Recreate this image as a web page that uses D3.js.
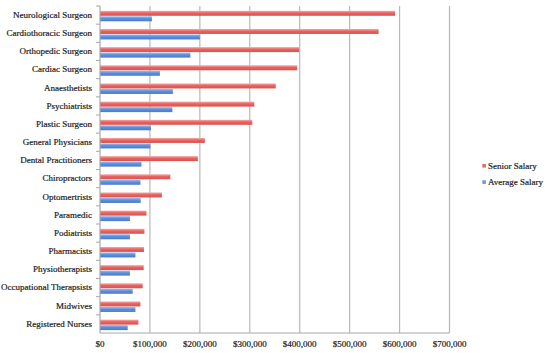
<!DOCTYPE html>
<html>
<head>
<meta charset="utf-8">
<script src="https://cdn.jsdelivr.net/npm/d3@7"></script>
<style>
  html, body { margin: 0; padding: 0; background: #fff; }
  svg { display: block; }
  text { font-family: "Liberation Serif", "DejaVu Serif", serif; fill: #1a1a1a; stroke: #1a1a1a; stroke-width: 0.2px; }
</style>
</head>
<body>
<svg id="chart" width="547" height="353"></svg>
<script>
const categories = ["Neurological Surgeon","Cardiothoracic Surgeon","Orthopedic Surgeon","Cardiac Surgeon","Anaesthetists","Psychiatrists","Plastic Surgeon","General Physicians","Dental Practitioners","Chiropractors","Optomertrists","Paramedic","Podiatrists","Pharmacists","Physiotherapists","Occupational Therapsists","Midwives","Registered Nurses"];
const seniorSalary = [591000,558000,399000,395000,352000,309000,305000,210000,196000,141000,124000,93000,89000,88000,87500,85500,81000,77000];
const averageSalary = [104000,200000,181000,120000,146000,145000,102000,101000,83000,81000,81500,60000,60000,71000,60000,65500,71000,55500];
const xTicks = [0,100000,200000,300000,400000,500000,600000,700000];
const seriesNames = ["Senior Salary","Average Salary"];

const svg = d3.select("#chart");
const x = d3.scaleLinear().domain([0, 700000]).range([100, 449.5]);
const y = d3.scaleBand().domain(categories).range([6, 333]);

const defs = svg.append("defs");
function grad(id, c0, c1, c2) {
  const g = defs.append("linearGradient").attr("id", id).attr("x1",0).attr("y1",0).attr("x2",0).attr("y2",1);
  g.append("stop").attr("offset","0%").attr("stop-color",c0);
  g.append("stop").attr("offset","45%").attr("stop-color",c1);
  g.append("stop").attr("offset","100%").attr("stop-color",c2);
}
grad("gRed", "#f5aaa8", "#e8625f", "#d8524f");
grad("gBlue", "#9fbdf0", "#5b8fdc", "#4a7bc8");

// gridlines
svg.append("g").selectAll("line").data(xTicks.slice(1)).join("line")
  .attr("x1", d => x(d)).attr("x2", d => x(d))
  .attr("y1", 6).attr("y2", 333)
  .attr("stroke", "#b8b8b8").attr("stroke-width", 1.2);

// bars
const bars = svg.append("g");
bars.selectAll("rect.s").data(categories).join("rect").attr("class","s")
  .attr("x", x(0)).attr("y", (d) => y(d) + y.bandwidth()/2 - 4.3)
  .attr("width", (d,i) => x(seniorSalary[i]) - x(0)).attr("height", 5)
  .attr("fill", "url(#gRed)");
bars.selectAll("rect.a").data(categories).join("rect").attr("class","a")
  .attr("x", x(0)).attr("y", (d) => y(d) + y.bandwidth()/2 + 1.2)
  .attr("width", (d,i) => x(averageSalary[i]) - x(0)).attr("height", 5)
  .attr("fill", "url(#gBlue)");

// left axis
const left = svg.append("g");
left.append("line").attr("x1",100).attr("x2",100).attr("y1",6).attr("y2",333)
  .attr("stroke","#a8a8a8").attr("stroke-width",1.2);
left.selectAll("line.t").data(categories).join("line").attr("class","t")
  .attr("x1",96).attr("x2",100)
  .attr("y1", d => y(d)).attr("y2", d => y(d))
  .attr("stroke","#a8a8a8").attr("stroke-width",1);
left.selectAll("text").data(categories).join("text")
  .attr("x", 92).attr("y", d => y(d) + y.bandwidth()/2 + 0.8)
  .attr("text-anchor","end").attr("dominant-baseline","middle")
  .attr("font-size", 9).text(d => d);

// bottom axis
const bottom = svg.append("g");
bottom.append("line").attr("x1",100).attr("x2",x(700000)).attr("y1",333).attr("y2",333)
  .attr("stroke","#a8a8a8").attr("stroke-width",1.2);
bottom.selectAll("text").data(xTicks).join("text")
  .attr("x", d => x(d)).attr("y", 345)
  .attr("text-anchor","middle").attr("dominant-baseline","middle")
  .attr("font-size", 9).text(d => d3.format("$,")(d));

// legend
const legendColors = ["#e46b69", "#6f98e0"];
const lg = svg.append("g");
seriesNames.forEach((n, i) => {
  lg.append("rect").attr("x", 482.3).attr("y", 164 + i*16.3).attr("width", 3.6).attr("height", 3.6)
    .attr("fill", legendColors[i]);
  lg.append("text").attr("x", 488).attr("y", 166.6 + i*16.3)
    .attr("dominant-baseline","middle").attr("font-size", 9).text(n);
});
</script>
</body>
</html>
